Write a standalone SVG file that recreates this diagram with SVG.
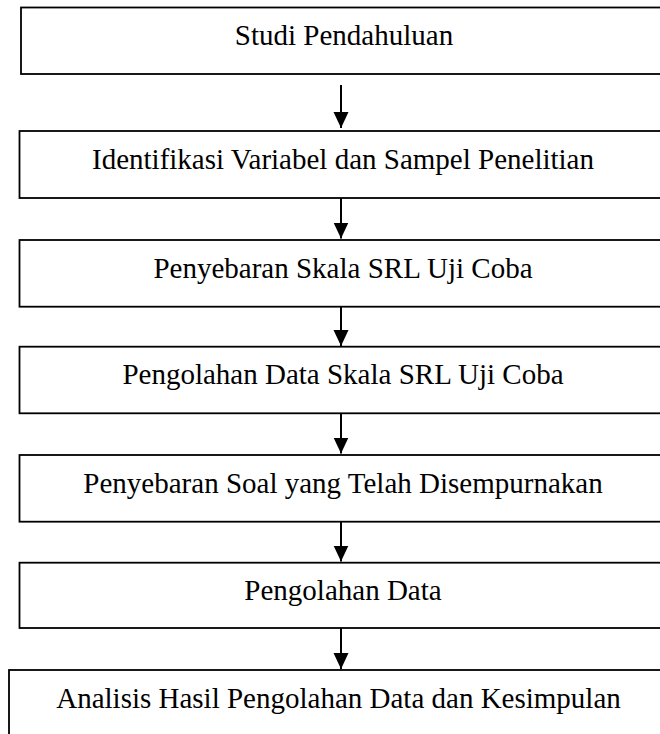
<svg xmlns="http://www.w3.org/2000/svg" width="660" height="734" viewBox="0 0 660 734">
<style>
.box{fill:#fff;stroke:#000;stroke-width:1.8}
.lbl{font-family:"Liberation Serif","Times New Roman",serif;font-size:29px;fill:#000;text-anchor:middle}
.conn{stroke:#000;stroke-width:2;fill:none}
</style>
<defs>
<marker id="ah" markerUnits="userSpaceOnUse" markerWidth="16" markerHeight="16" refX="16" refY="7.5" orient="auto">
<path d="M0,0 L16,7.5 L0,15 Z" fill="#000"/>
</marker>
</defs>
<rect width="660" height="734" fill="#fff"/>
<g id="n1"><rect class="box" x="21" y="7.5" width="650" height="66.5"/><text class="lbl" x="344" y="45">Studi Pendahuluan</text></g>
<g id="n2"><rect class="box" x="19.5" y="131" width="650" height="67"/><text class="lbl" x="343" y="169">Identifikasi Variabel dan Sampel Penelitian</text></g>
<g id="n3"><rect class="box" x="19.5" y="240" width="650" height="66.7"/><text class="lbl" x="343" y="278">Penyebaran Skala SRL Uji Coba</text></g>
<g id="n4"><rect class="box" x="19.5" y="346.7" width="650" height="66.6"/><text class="lbl" x="343" y="384.4">Pengolahan Data Skala SRL Uji Coba</text></g>
<g id="n5"><rect class="box" x="19.5" y="455" width="650" height="66.7"/><text class="lbl" x="343" y="492.7">Penyebaran Soal yang Telah Disempurnakan</text></g>
<g id="n6"><rect class="box" x="19.5" y="562.7" width="650" height="65.3"/><text class="lbl" x="343" y="600">Pengolahan Data</text></g>
<g id="n7"><rect class="box" x="9" y="670" width="660" height="80"/><text class="lbl" x="338.5" y="708">Analisis Hasil Pengolahan Data dan Kesimpulan</text></g>
<g id="connectors">
<line class="conn" x1="341" y1="85" x2="341" y2="128" marker-end="url(#ah)"/>
<line class="conn" x1="341" y1="198" x2="341" y2="238.5" marker-end="url(#ah)"/>
<line class="conn" x1="341" y1="306.7" x2="341" y2="346" marker-end="url(#ah)"/>
<line class="conn" x1="341" y1="413.3" x2="341" y2="453.5" marker-end="url(#ah)"/>
<line class="conn" x1="341" y1="521.7" x2="341" y2="561.5" marker-end="url(#ah)"/>
<line class="conn" x1="341" y1="628" x2="341" y2="669" marker-end="url(#ah)"/>
</g>
</svg>
